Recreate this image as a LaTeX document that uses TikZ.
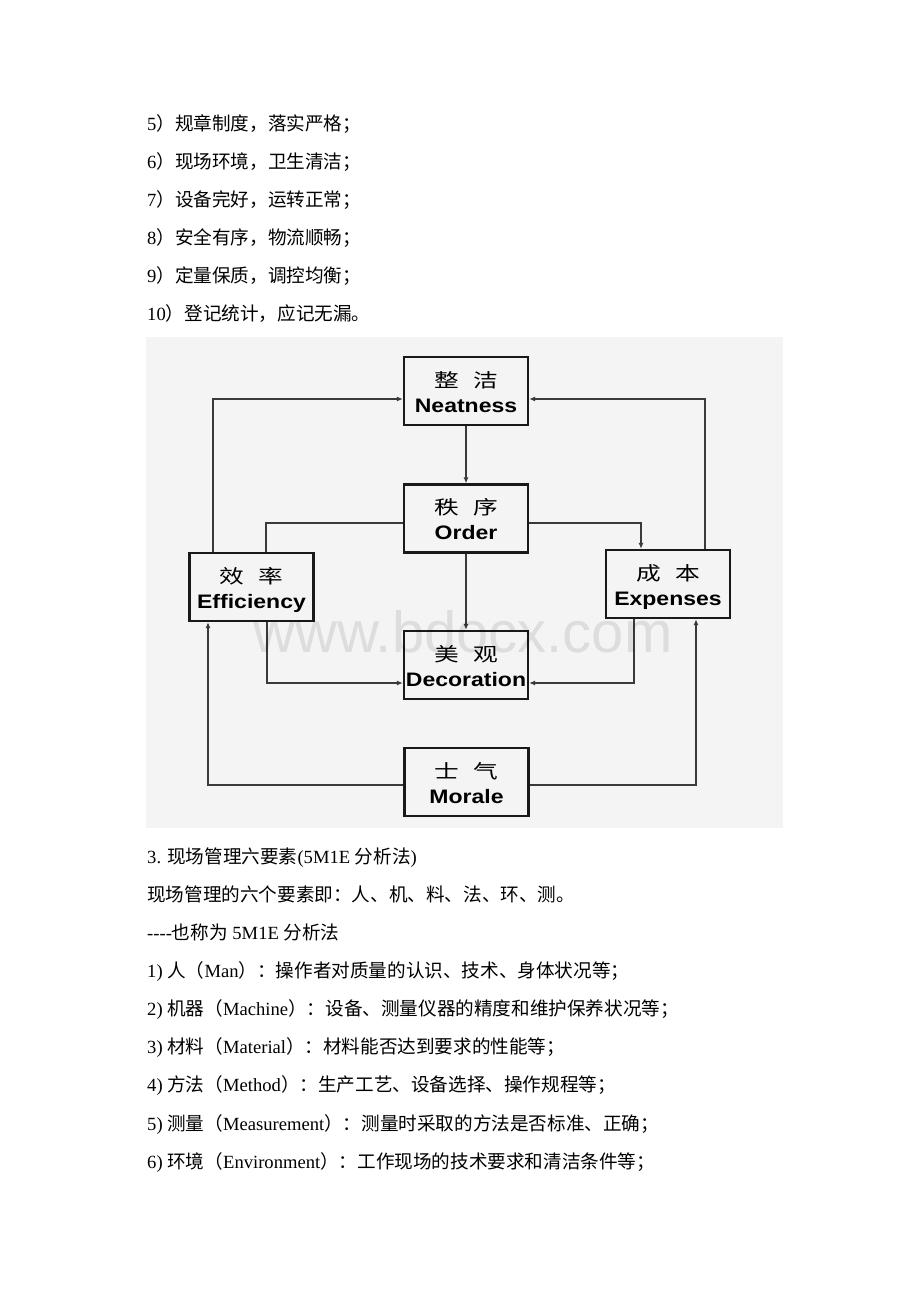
\documentclass[tikz,border=0pt]{standalone}
\usepackage{fontspec}
\usepackage{graphicx}
\setmainfont{Liberation Serif}
\setsansfont{Liberation Sans}
\newfontfamily\zh{Noto Sans CJK SC}
\newfontfamily\wmfont{Liberation Sans}
\usetikzlibrary{arrows.meta}
\definecolor{panelgray}{HTML}{F4F4F4}
\definecolor{linegray}{HTML}{3A3A3A}
\newcommand\enlab[1]{\scalebox{1.18}[1]{\fontsize{19.5}{22}\selectfont\sffamily\bfseries #1}}
\newcommand\zhlab[2]{\scalebox{1.3}[1]{\fontsize{19}{22}\selectfont\zh #1\hspace{0.58em}#2}}
\tikzset{
  boxnode/.style={draw=black!90, line width=2.4pt, minimum width=124pt, minimum height=68pt, inner sep=0pt},
  labnode/.style={anchor=base, inner sep=0pt},
  bodytext/.style={anchor=base west, inner sep=0pt, font=\fontsize{18.6}{22}\selectfont},
  conn/.style={draw=linegray, line width=1.1pt},
  arr/.style={conn, -{Latex[length=6pt,width=5pt]}}
}
\begin{document}
\begin{tikzpicture}[x=1pt,y=-1pt]
\useasboundingbox (0,0) rectangle (920,1302);
\fill[white] (0,0) rectangle (920,1302);
% body text above
\node[bodytext] (t1) at (147,130) {5{\zh ）规章制度，落实严格；}};
\node[bodytext] (t2) at (147,168) {6{\zh ）现场环境，卫生清洁；}};
\node[bodytext] (t3) at (147,206) {7{\zh ）设备完好，运转正常；}};
\node[bodytext] (t4) at (147,244) {8{\zh ）安全有序，物流顺畅；}};
\node[bodytext] (t5) at (147,282) {9{\zh ）定量保质，调控均衡；}};
\node[bodytext] (t6) at (147,320) {10{\zh ）登记统计，应记无漏。}};
% panel
\fill[panelgray] (146,337) rectangle (783,828);
% boxes
\node[boxnode] (neat) at (466,391) {};
\node[boxnode] (ord) at (466,518.5) {};
\node[boxnode] (eff) at (251.5,587) {};
\node[boxnode] (exp) at (668,584) {};
\node[boxnode] (dec) at (466,665) {};
\node[boxnode] (mor) at (466.5,782) {};
% labels
\node[labnode] (neatzh) at (466,387) {\zhlab{整}{洁}};
\node[labnode] (neaten) at (466,412) {\enlab{Neatness}};
\node[labnode] (ordzh) at (466,514.5) {\zhlab{秩}{序}};
\node[labnode] (orden) at (466,539.5) {\enlab{Order}};
\node[labnode] (effzh) at (251.5,583) {\zhlab{效}{率}};
\node[labnode] (effen) at (251.5,608) {\enlab{Efficiency}};
\node[labnode] (expzh) at (668,580) {\zhlab{成}{本}};
\node[labnode] (expen) at (668,605) {\enlab{Expenses}};
\node[labnode] (deczh) at (466,661) {\zhlab{美}{观}};
\node[labnode] (decen) at (466,686) {\enlab{Decoration}};
\node[labnode] (morzh) at (466.5,778) {\zhlab{士}{气}};
\node[labnode] (moren) at (466.5,803) {\enlab{Morale}};
% connector coordinates
\coordinate (ca) at (213,399);
\coordinate (cb) at (705,399);
\coordinate (cd) at (266,523);
\coordinate (ce) at (641,523);
\coordinate (cg) at (267,683);
\coordinate (ch) at (634,683);
\coordinate (ci) at (208,785);
\coordinate (cj) at (696,785);
% connectors
\draw[arr] (eff.north -| ca) |- (neat.west |- ca);
\draw[arr] (exp.north -| cb) |- (neat.east |- cb);
\draw[arr] (neat.south) -- (ord.north);
\draw[conn] (ord.west |- cd) -| (eff.north -| cd);
\draw[arr] (ord.east |- ce) -| (exp.north -| ce);
\draw[arr] (ord.south) -- (dec.north);
\draw[arr] (eff.south -| cg) |- (dec.west |- cg);
\draw[arr] (exp.south -| ch) |- (dec.east |- ch);
\draw[arr] (mor.west |- ci) -| (eff.south -| ci);
\draw[arr] (mor.east |- cj) -| (exp.south -| cj);
% watermark
\node[anchor=base, inner sep=0pt, text=black, opacity=0.09, font=\wmfont\fontsize{58}{60}\selectfont] (wm) at (463,652) {www.bdocx.com};
% body text below
\node[bodytext] (u1) at (147,863) {3. {\zh 现场管理六要素}(5M1E {\zh 分析法})};
\node[bodytext] (u2) at (147,901) {{\zh 现场管理的六个要素即：人、机、料、法、环、测。}};
\node[bodytext] (u3) at (147,939) {-{}-{}-{}-{\zh 也称为} 5M1E {\zh 分析法}};
\node[bodytext] (u4) at (147,977) {1) {\zh 人（}Man{\zh ）：操作者对质量的认识、技术、身体状况等；}};
\node[bodytext] (u5) at (147,1015) {2) {\zh 机器（}Machine{\zh ）：设备、测量仪器的精度和维护保养状况等；}};
\node[bodytext] (u6) at (147,1053) {3) {\zh 材料（}Material{\zh ）：材料能否达到要求的性能等；}};
\node[bodytext] (u7) at (147,1091) {4) {\zh 方法（}Method{\zh ）：生产工艺、设备选择、操作规程等；}};
\node[bodytext] (u8) at (147,1130) {5) {\zh 测量（}Measurement{\zh ）：测量时采取的方法是否标准、正确；}};
\node[bodytext] (u9) at (147,1168) {6) {\zh 环境（}Environment{\zh ）：工作现场的技术要求和清洁条件等；}};
\end{tikzpicture}
\end{document}
